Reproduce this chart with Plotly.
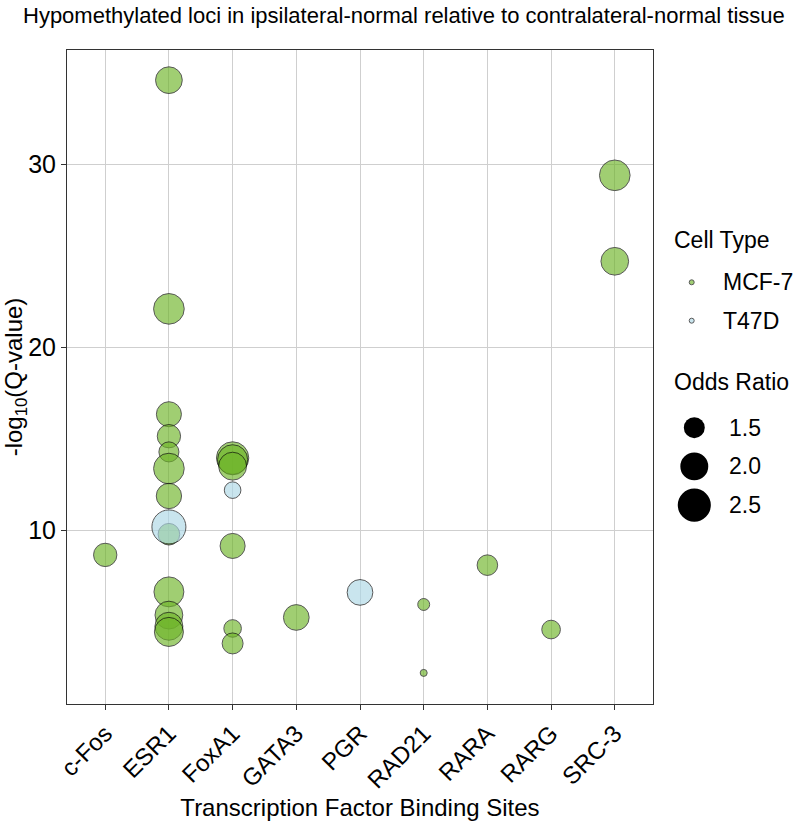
import plotly.graph_objects as go
import numpy as np

# ---------------- data ----------------
categories = ["c-Fos", "ESR1", "FoxA1", "GATA3", "PGR", "RAD21", "RARA", "RARG", "SRC-3"]

mcf7_tf = ["c-Fos",
           "ESR1", "ESR1", "ESR1", "ESR1", "ESR1", "ESR1", "ESR1", "ESR1", "ESR1", "ESR1", "ESR1", "ESR1",
           "FoxA1", "FoxA1", "FoxA1", "FoxA1", "FoxA1", "FoxA1",
           "GATA3", "RAD21", "RAD21", "RARA", "RARG", "SRC-3", "SRC-3"]
mcf7_q = [8.65,
          34.6, 22.1, 16.34, 15.14, 14.28, 13.37, 11.87, 9.78, 6.63, 5.36, 4.75, 4.44,
          13.95, 13.85, 13.5, 9.14, 4.63, 3.81,
          5.23, 5.94, 2.2, 8.09, 4.57, 29.4, 24.7]
mcf7_or = [1.65,
           1.9, 2.25, 1.77, 1.65, 1.45, 2.25, 1.79, 1.54, 2.18, 1.99, 2.0, 2.1,
           2.42, 2.2, 2.0, 1.77, 1.33, 1.5,
           1.82, 1.15, 1.1, 1.48, 1.38, 2.25, 1.98]

t47d_tf = ["ESR1", "FoxA1", "PGR"]
t47d_q = [10.18, 12.19, 6.6]
t47d_or = [2.6, 1.29, 1.82]

cell_types = ["MCF-7", "T47D"]
or_legend = [1.5, 2.0, 2.5]
y_ticks = [10, 20, 30]

# ---------------- styles ----------------
FONT = "Liberation Sans, Arial, sans-serif"
MCF7_COL = "rgb(110,180,40)"
T47D_COL = "rgb(173,216,230)"
CELL_COLS = [MCF7_COL, T47D_COL]
ALPHA = 0.65


def or_to_diam(v):
    v = np.asarray(v, dtype=float)
    return 7 + 27 * np.sqrt(np.clip((v - 1.1) / 1.5, 0, None))


fig = go.Figure()
fig.add_trace(go.Scatter(
    x=mcf7_tf, y=mcf7_q, mode="markers", name="MCF-7", showlegend=False,
    marker=dict(size=or_to_diam(mcf7_or), color=MCF7_COL, opacity=ALPHA,
                line=dict(color="black", width=1)),
))
fig.add_trace(go.Scatter(
    x=t47d_tf, y=t47d_q, mode="markers", name="T47D", showlegend=False,
    marker=dict(size=or_to_diam(t47d_or), color=T47D_COL, opacity=ALPHA,
                line=dict(color="black", width=1)),
))

W, H = 800, 821
ML, MR, MT, MB = 67, 147, 50, 117
PW, PH = W - ML - MR, H - MT - MB


def px_to_paper(xp, yp):
    return (xp - ML) / PW, (H - MB - yp) / PH


def circle(xp, yp, d, fill, line_col, line_w, opacity=1.0):
    cx, cy = px_to_paper(xp, yp)
    return dict(type="circle", xref="paper", yref="paper",
                xsizemode="pixel", ysizemode="pixel", xanchor=cx, yanchor=cy,
                x0=-d / 2, x1=d / 2, y0=-d / 2, y1=d / 2, opacity=opacity,
                fillcolor=fill, line=dict(color=line_col, width=line_w))


def label(xp, yp, text, size=24):
    x, y = px_to_paper(xp, yp)
    return dict(x=x, y=y, xref="paper", yref="paper", text=text, showarrow=False,
                xanchor="left", yanchor="middle", font=dict(family=FONT, size=size, color="black"))


shapes = []
annotations = []
# Cell type legend
annotations.append(label(672, 240, "Cell Type", 23))
for i, (nm, col) in enumerate(zip(cell_types, CELL_COLS)):
    cy = 282.3 + i * 38.4
    shapes.append(circle(691.7, cy, 5, col, "black", 1, ALPHA))
    annotations.append(label(721, cy, nm, 23))
# Odds ratio legend
annotations.append(label(672, 382, "Odds Ratio", 23))
for i, (v, d) in enumerate(zip(or_legend, or_to_diam(or_legend))):
    cy = 427.7 + i * 38.7
    shapes.append(circle(694.3, cy, d, "black", "black", 0))
    annotations.append(label(727, cy, f"{v:.1f}", 23))

fig.update_layout(
    width=W, height=H,
    margin=dict(l=ML, r=MR, t=MT, b=MB, autoexpand=False),
    paper_bgcolor="white", plot_bgcolor="white", showlegend=False,
    title=dict(text="Hypomethylated loci in ipsilateral-normal relative to contralateral-normal tissue",
               xref="container", x=23 / W, xanchor="left", yref="container", y=1 - 15 / H,
               yanchor="middle", font=dict(family=FONT, size=22, color="black")),
    font=dict(family=FONT, color="black"),
    shapes=shapes, annotations=annotations,
    xaxis=dict(type="category", categoryorder="array", categoryarray=categories,
               range=[-0.6, 8.6], showgrid=True, gridcolor="#cfcfcf", gridwidth=1,
               showline=True, linecolor="#333333", linewidth=1, mirror=True,
               ticks="outside", ticklen=5, tickcolor="#333333", tickangle=-45,
               tickfont=dict(family=FONT, size=24, color="black"), zeroline=False,
               automargin=False,
               title=dict(text="Transcription Factor Binding Sites",
                          font=dict(family=FONT, size=24, color="black"), standoff=0)),
    yaxis=dict(range=[0.5, 36.25], tickvals=y_ticks, showgrid=True, gridcolor="#cfcfcf",
               gridwidth=1, showline=True, linecolor="#333333", linewidth=1, mirror=True,
               ticks="outside", ticklen=5, tickcolor="#333333", zeroline=False,
               automargin=False,
               tickfont=dict(family=FONT, size=25, color="black"),
               title=dict(text="-log<sub>10</sub>(Q-value)",
                          font=dict(family=FONT, size=24, color="black"), standoff=6)),
)

fig.write_html("out.html", config={"displayModeBar": False},
               post_script="document.body.style.margin='0';document.body.style.overflow='hidden';")
